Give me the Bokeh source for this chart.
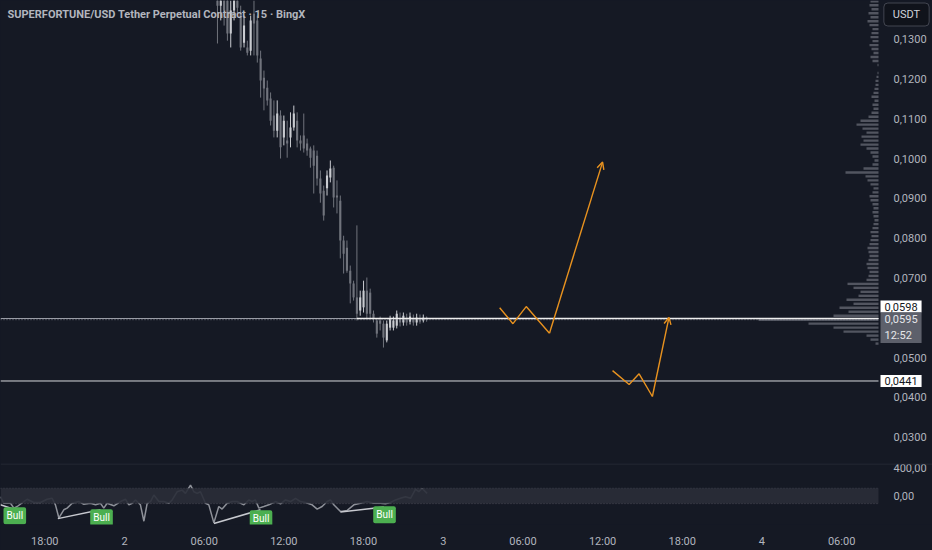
from bokeh.plotting import figure
from bokeh.models import (Range1d, FixedTicker, Label, Span, Arrow, OpenHead,
                          BoxAnnotation, GlobalInlineStyleSheet, ColumnDataSource)
from bokeh.layouts import column
from bokeh.embed import file_html
from bokeh.resources import INLINE

BG = "#151924"
TXT = "#b2b5be"
ORANGE = "#e8921f"
FONT = "Roboto"

title_text = "SUPERFORTUNE/USD Tether Perpetual Contract · 15 · BingX"

# 15-minute candles (hours since day 1 00:00)
opens = [0.1447,0.1384,0.1422,0.1397,0.1314,0.1372,0.1397,0.1364,0.1291,0.1279,
         0.1271,0.1364,0.1347,0.1251,0.1203,0.1178,0.1151,0.1108,0.1070,0.1108,
         0.1053,0.1045,0.1053,0.1078,0.1095,0.1045,0.1058,0.1038,0.1025,0.1020,
         0.1007,0.0950,0.0919,0.0925,0.0952,0.0977,0.0907,0.0894,0.0794,0.0776,
         0.0718,0.0686,0.0651,0.0618,0.0626,0.0668,0.0663,0.0610,0.0593,0.0593,
         0.0585,0.0543,0.0575,0.0575,0.0580,0.0598,0.0588,0.0600,0.0590,0.0598,
         0.0588,0.0598,0.0593,0.0600]
highs = [0.1498,0.1472,0.1472,0.1447,0.1397,0.1435,0.1422,0.1384,0.1359,0.1296,
         0.1359,0.1397,0.1359,0.1271,0.1221,0.1196,0.1166,0.1146,0.1146,0.1121,
         0.1108,0.1095,0.1116,0.1133,0.1116,0.1058,0.1113,0.1050,0.1030,0.1033,
         0.1020,0.0970,0.0932,0.0970,0.0995,0.0982,0.0945,0.0907,0.0806,0.0794,
         0.0731,0.0693,0.0832,0.0668,0.0693,0.0701,0.0673,0.0618,0.0598,0.0603,
         0.0593,0.0593,0.0605,0.0603,0.0618,0.0613,0.0613,0.0610,0.0613,0.0608,
         0.0610,0.0608,0.0608,0.0603]
lows = [0.1289,0.1347,0.1334,0.1296,0.1279,0.1347,0.1359,0.1271,0.1279,0.1259,
        0.1259,0.1259,0.1241,0.1153,0.1121,0.1133,0.1083,0.1053,0.1053,0.1000,
        0.1033,0.1002,0.1028,0.1070,0.1028,0.1020,0.1015,0.1007,0.0977,0.0912,
        0.0932,0.0889,0.0844,0.0907,0.0940,0.0877,0.0862,0.0749,0.0711,0.0713,
        0.0636,0.0643,0.0593,0.0605,0.0613,0.0598,0.0598,0.0588,0.0550,0.0568,
        0.0525,0.0538,0.0568,0.0568,0.0573,0.0578,0.0580,0.0580,0.0583,0.0580,
        0.0580,0.0585,0.0588,0.0590]
closes = [0.1384,0.1422,0.1372,0.1314,0.1372,0.1397,0.1379,0.1279,0.1334,0.1266,
          0.1347,0.1339,0.1259,0.1196,0.1176,0.1146,0.1095,0.1070,0.1113,0.1028,
          0.1095,0.1038,0.1078,0.1113,0.1045,0.1038,0.1025,0.1020,0.1002,0.0982,
          0.0950,0.0912,0.0857,0.0957,0.0975,0.0902,0.0902,0.0794,0.0761,0.0718,
          0.0686,0.0651,0.0610,0.0651,0.0668,0.0610,0.0610,0.0598,0.0560,0.0585,
          0.0550,0.0585,0.0598,0.0593,0.0610,0.0588,0.0605,0.0588,0.0603,0.0588,
          0.0600,0.0590,0.0600,0.0595]
first_bar_hour = 31.0
bar_step_hours = 0.25
bar_hours = [first_bar_hour + bar_step_hours * i for i in range(len(closes))]

# visible-range volume profile (bins of 0.001 starting at 0.053)
vp_first_bin = 0.053
vp_bin = 0.001
vp_volume = [3,8,12,35,45,70,120,45,30,39,25,32,20,18,25,31,12,10,9,11,
             12,10,9,10,11,9,8,7,8,6,5,4,5,6,5,6,8,9,6,5,
             8,11,13,33,15,6,4,6,8,12,18,15,17,12,16,22,18,10,7,5,
             6,4,7,5,4,3,3,2,1,0,1,6,8,5,7,9,6,8,7,6,
             9,11,8,10,7,9,8]
vp_price = [vp_first_bin + vp_bin * (i + 0.5) for i in range(len(vp_volume))]

# horizontal levels
resistance = 0.0598
support = 0.0441
ray_start_hour = 41.5
countdown = "12:52"
resistance_label = "0,0598"
last_label = "0,0595"
support_label = "0,0441"
currency = "USDT"

# projected paths (orange)
up_path_hours = [52.25, 53.25, 54.25, 56.0, 60.0]
up_path_prices = [0.0625, 0.0585, 0.0628, 0.0561, 0.0991]
down_path_hours = [60.75, 62.0, 62.75, 63.75, 65.0]
down_path_prices = [0.0467, 0.0432, 0.0459, 0.0402, 0.0601]

# axis ticks
price_ticks = [0.03, 0.04, 0.05, 0.06, 0.07, 0.08, 0.09, 0.10, 0.11, 0.12, 0.13]
price_tick_labels = ["0,0300", "0,0400", "0,0500", "", "0,0700", "0,0800",
                     "0,0900", "0,1000", "0,1100", "0,1200", "0,1300"]
time_ticks = [18, 24, 30, 36, 42, 48, 54, 60, 66, 72, 78]
time_tick_labels = ["18:00", "2", "06:00", "12:00", "18:00", "3",
                    "06:00", "12:00", "18:00", "4", "06:00"]

# oscillator pane
ind_hours = [14.66,14.91,15.42,15.67,15.92,16.67,17.17,17.67,18.17,18.55,
             18.80,19.06,19.43,19.68,20.06,20.56,20.94,21.44,21.82,22.19,
             22.44,22.69,23.20,23.70,24.08,24.33,24.58,24.83,25.20,25.46,
             25.71,25.96,26.21,26.59,26.96,27.34,27.59,27.97,28.34,28.59,
             28.97,29.22,29.47,29.72,30.10,30.35,30.73,31.10,31.35,31.73,
             32.11,32.48,32.99,33.36,33.61,33.86,34.12,34.49,34.87,35.37,
             35.75,36.12,36.50,36.88,37.25,37.63,38.13,38.51,38.88,39.26,
             39.51,39.76,40.26,40.77,41.27,41.77,42.27,42.77,43.28,43.65,
             44.03,44.41,44.78,45.16,45.54,45.91,46.16,46.41,46.79]
ind_vals = [-9,-95,-95,-159,-138,-43,-86,-86,-43,-30,
            -116,-288,-181,-159,-95,-73,-108,-95,-116,-95,
            -159,-95,-129,-73,-43,-116,-95,-52,-116,-331,
            -95,-73,13,-73,-73,-95,-52,56,77,34,
            142,56,34,56,-95,-116,-353,-138,-172,-95,
            -73,-73,-116,-52,-73,-52,-159,-138,-116,-73,
            -103,-52,-73,-30,-73,-86,-116,-172,-138,-73,
            -52,-116,-202,-189,-116,-95,-73,-95,-95,-103,
            -86,-52,-30,-9,-30,86,56,99,34]
band_upper = 100
band_lower = -100
div_x0 = [14.66, 18.98, 30.73, 40.26]
div_y0 = [-116, -297, -361, -211]
div_x1 = [15.67, 22.19, 34.24, 43.53]
div_y1 = [-172, -181, -181, -146]
bull_hours = [15.74, 22.27, 34.28, 43.58]
bull_vals = [-258, -284, -297, -245]
ind_ticks = [0, 400]
ind_tick_labels = ["0,00", "400,00"]

UP_C = "#c9cbd0"
DN_C = "#70737c"

# time window: chart area ends where the price scale begins
view_start = 14.663
chart_end = 80.777
view_end = 84.843
xr = Range1d(view_start, view_end)
yr = Range1d(0.02337, 0.13970)


def style_axis(ax, standoff):
    ax.axis_line_color = None
    ax.major_tick_line_color = None
    ax.minor_tick_line_color = None
    ax.major_label_text_color = TXT
    ax.major_label_text_font = FONT
    ax.major_label_text_font_size = "11px"
    ax.major_label_standoff = standoff


p = figure(width=932, height=463, x_range=xr, y_range=yr,
           output_backend="svg", toolbar_location=None, y_axis_location="right",
           x_axis_location=None, min_border_left=0, min_border_right=0,
           min_border_top=0, min_border_bottom=0, background_fill_color=BG,
           border_fill_color=BG, outline_line_color=None)
p.grid.visible = False
ya = p.yaxis[0]
ya.fixed_location = chart_end
ya.ticker = FixedTicker(ticks=price_ticks)
ya.major_label_overrides = dict(zip(price_ticks, price_tick_labels))
style_axis(ya, 9)

# volume profile
vp_scale = 1 / 13.28
vp_src = ColumnDataSource(dict(
    y=vp_price,
    left=[chart_end - v * vp_scale for v in vp_volume],
    right=[chart_end] * len(vp_volume)))
p.hbar(y="y", left="left", right="right", height=vp_bin * 0.6, source=vp_src,
       fill_color="#5d606b", line_color=None, fill_alpha=0.85)

# candles
colors = [UP_C if c >= o else DN_C for o, c in zip(opens, closes)]
csrc = ColumnDataSource(dict(x=bar_hours, o=opens, h=highs, l=lows, c=closes,
                             top=[max(o, c) for o, c in zip(opens, closes)],
                             bot=[min(o, c) for o, c in zip(opens, closes)],
                             col=colors))
p.segment(x0="x", y0="h", x1="x", y1="l", source=csrc, line_color="col", line_width=1)
p.vbar(x="x", top="top", bottom="bot", width=0.16, source=csrc,
       fill_color="col", line_color=None)

# levels
p.segment(x0=[view_start], y0=[closes[-1]], x1=[chart_end], y1=[closes[-1]],
          line_color="#787b86", line_width=1, line_dash="1 2")
p.segment(x0=[view_start], y0=[resistance], x1=[chart_end], y1=[resistance],
          line_color="#9a9da6", line_width=1)
p.segment(x0=[ray_start_hour], y0=[resistance], x1=[chart_end], y1=[resistance],
          line_color="#eeeeee", line_width=1.3)
p.segment(x0=[view_start], y0=[support], x1=[chart_end], y1=[support],
          line_color="#d6d8dd", line_width=1)

# orange projections
for hx, py in ((up_path_hours, up_path_prices), (down_path_hours, down_path_prices)):
    p.line(hx[:-1], py[:-1], line_color=ORANGE, line_width=1.4)
    p.add_layout(Arrow(x_start=hx[-2], y_start=py[-2], x_end=hx[-1], y_end=py[-1],
                       line_color=ORANGE, line_width=1.4,
                       end=OpenHead(size=7, line_color=ORANGE, line_width=1.4)))

# title
p.add_layout(Label(x=7, y=449, x_units="screen", y_units="screen", text=title_text,
                   text_font=FONT, text_font_size="11px", text_font_style="bold",
                   text_color=TXT, text_baseline="middle", text_align="left"))
# currency button and boxed price labels on the scale
p.add_layout(Label(x=906, y=449, x_units="screen", y_units="screen", text=currency,
                   text_font=FONT, text_font_size="11px", text_color="#d1d4dc",
                   text_baseline="middle", text_align="center",
                   background_fill_color="#10131b", border_line_color="#434651",
                   border_line_width=1, padding=(9, 5), border_radius=4))
p.add_layout(Label(x=880, y=resistance, x_units="screen", y_units="data", y_offset=12,
                   text=resistance_label, text_font=FONT, text_font_size="11px",
                   text_color="#131722", text_baseline="middle", text_align="left",
                   background_fill_color="#ffffff", padding=(4, 2)))
p.add_layout(Label(x=880, y=closes[-1], x_units="screen", y_units="data", y_offset=-8,
                   text=last_label + "\n" + countdown, text_font=FONT,
                   text_font_size="11px", text_color="#e6e7ea", text_baseline="middle",
                   text_align="left", background_fill_color="#5d606b", padding=(4, 1)))
p.add_layout(Label(x=880, y=support, x_units="screen", y_units="data",
                   text=support_label, text_font=FONT, text_font_size="11px",
                   text_color="#131722", text_baseline="middle", text_align="left",
                   background_fill_color="#ffffff", padding=(4, 2)))

# oscillator pane
p2 = figure(width=932, height=87, x_range=xr, y_range=Range1d(-374, 426),
            output_backend="svg", toolbar_location=None, y_axis_location="right",
            min_border_left=0, min_border_right=0, min_border_top=0,
            min_border_bottom=25, background_fill_color=BG, border_fill_color=BG,
            outline_line_color=None)
p2.grid.visible = False
xa = p2.xaxis[0]
xa.ticker = FixedTicker(ticks=time_ticks)
xa.major_label_overrides = dict(zip(time_ticks, time_tick_labels))
style_axis(xa, 4)
ya2 = p2.yaxis[0]
ya2.fixed_location = chart_end
ya2.ticker = FixedTicker(ticks=ind_ticks)
ya2.major_label_overrides = dict(zip(ind_ticks, ind_tick_labels))
style_axis(ya2, 9)

p2.add_layout(Span(location=420, dimension="width", line_color="#2a2e39", line_width=1))
p2.add_layout(BoxAnnotation(bottom=band_lower, top=band_upper, right=chart_end,
                            fill_color="#2a2e39", fill_alpha=0.9, line_color=None))
p2.segment(x0=[view_start, view_start], y0=[band_lower, band_upper],
           x1=[chart_end, chart_end], y1=[band_lower, band_upper],
           line_color="#5d606b", line_width=1, line_dash="1 2")
p2.line(ind_hours, ind_vals, line_color="#8e9199", line_width=1.5)
p2.segment(x0=div_x0, y0=div_y0, x1=div_x1, y1=div_y1, line_color="#c7c9cf",
           line_width=1.5)
for bh, bv in zip(bull_hours, bull_vals):
    p2.add_layout(Label(x=bh, y=bv, text="Bull", text_font=FONT, text_font_size="10px",
                        text_color="#ffffff", text_align="center", text_baseline="middle",
                        background_fill_color="#4caf50", padding=3, border_radius=2))

layout = column(p, p2, spacing=0)
layout.stylesheets = [GlobalInlineStyleSheet(css="html, body { background-color: #151924; }")]

open("out.html", "w").write(file_html(layout, INLINE))
